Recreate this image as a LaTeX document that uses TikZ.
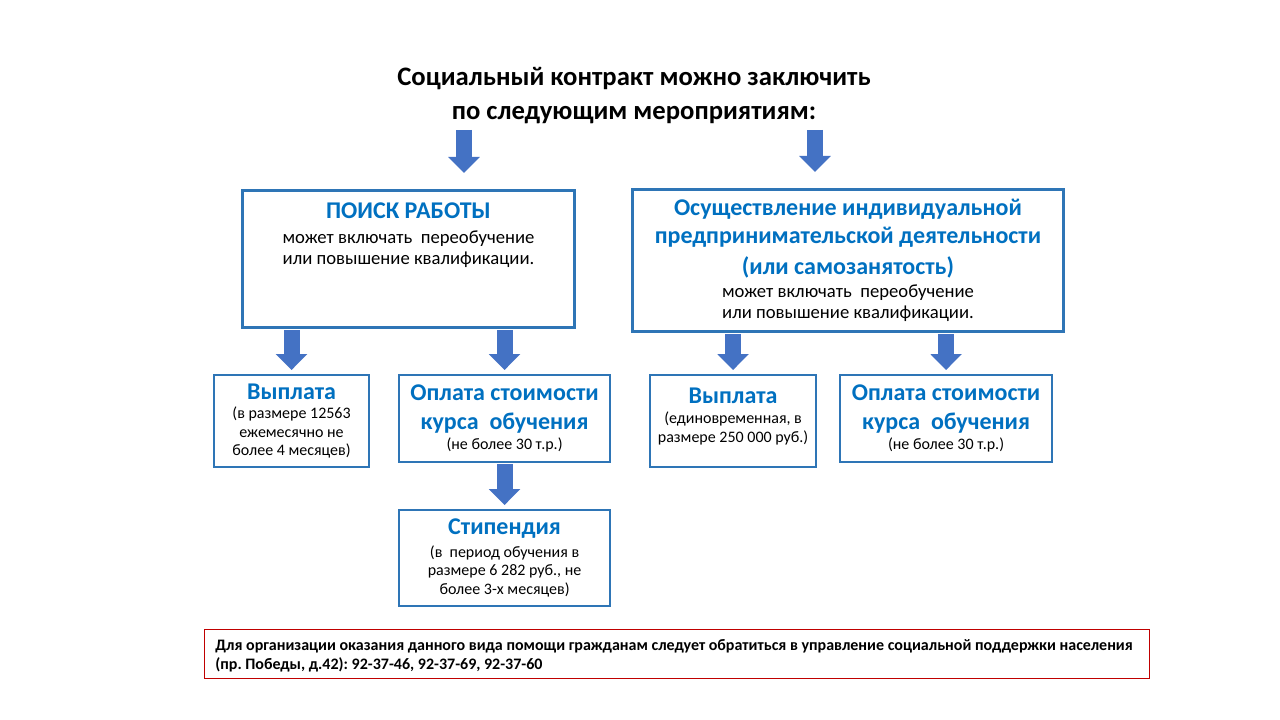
\documentclass[tikz,border=0pt]{standalone}
\usepackage{fontspec}
\setmainfont{Carlito}
\usepackage{tikz}
\usetikzlibrary{positioning,arrows.meta}
\definecolor{boxblue}{HTML}{2E75B6}
\definecolor{headblue}{HTML}{0070C0}
\definecolor{arrowblue}{HTML}{4472C4}
\definecolor{notered}{HTML}{C00000}
\newcommand{\headfont}{\fontsize{18}{22}\selectfont\bfseries\color{headblue}}
\newcommand{\bigsub}{\fontsize{14}{15.75}\selectfont}
\newcommand{\smallsub}{\fontsize{12}{14}\selectfont}
\tikzstyle{arrow} = [line width=12pt, draw=arrowblue, -{Triangle[width=23pt,length=12pt]}]
\frenchspacing

\begin{document}
\begin{tikzpicture}[
    x=0.75pt, y=-0.75pt,
    bigbox/.style={
        rectangle,
        draw=boxblue,
        line width=2.2pt,
        anchor=north west,
        align=center,
        inner sep=0pt
    },
    smallbox/.style={
        rectangle,
        draw=boxblue,
        line width=1.6pt,
        anchor=north west,
        align=center,
        inner sep=0pt,
        font=\smallsub
    },
    notebox/.style={
        rectangle,
        draw=notered,
        line width=0.8pt,
        anchor=north west,
        inner sep=0pt
    }
    ]
    \useasboundingbox (0,0) rectangle (1280,720);

    % Title
    \node[align=center, font=\fontsize{20}{25}\selectfont\bfseries] (title) at (634,95.5)
        {Социальный контракт можно заключить\\по следующим мероприятиям:};

    % Job search
    \node[bigbox, minimum width=249pt, minimum height=102.75pt] (job) at (241,189) {};
    \node[below=7pt of job.north, align=center, font=\bigsub] (jobtext)
        {{\headfont ПОИСК РАБОТЫ}\\[2.5pt]
         может включать\ \ переобучение\\
         или повышение квалификации.};

    % Self-employment
    \node[bigbox, minimum width=323.25pt, minimum height=106.5pt, font=\bigsub] (self) at (631,188)
        {{\headfont Осуществление индивидуальной}\\[5.5pt]
         {\headfont предпринимательской деятельности}\\[5.5pt]
         {\headfont (или самозанятость)}\\[2pt]
         может включать\ \ переобучение\\
         или повышение квалификации.};

    % Job search options
    \node[smallbox, minimum width=116.25pt, minimum height=69pt] (payjob) at (213,374)
        {{\headfont Выплата}\\[0.5pt]
         (в размере 12563\\ежемесячно не\\более 4 месяцев)};
    \node[smallbox, minimum width=158.25pt, minimum height=65.25pt] (coursejob) at (398,374)
        {{\headfont Оплата стоимости}\\[8pt]
         {\headfont курса\ \ обучения}\\[1pt]
         (не более 30 т.р.)};
    \node[smallbox, minimum width=158.25pt, minimum height=72pt] (grant) at (398,509)
        {{\headfont Стипендия}\\[3pt]
         (в\ \ период обучения в\\размере 6 282 руб., не\\более 3-х месяцев)};

    % Self-employment options
    \node[smallbox, minimum width=124.5pt, minimum height=69pt] (payself) at (649,374)
        {{\headfont Выплата}\\[1pt]
         (единовременная, в\\размере 250 000 руб.)\\[-5pt]\mbox{}};
    \node[smallbox, minimum width=159pt, minimum height=65.25pt] (courseself) at (839,374)
        {{\headfont Оплата стоимости}\\[8pt]
         {\headfont курса\ \ обучения}\\[1pt]
         (не более 30 т.р.)};

    % Contacts
    \node[notebox, minimum width=708.75pt, minimum height=36.75pt] (note) at (204,629) {};
    \node[right=5pt of note.west, yshift=-1.5pt, align=left, font=\fontsize{12}{14.5}\selectfont\bfseries] (notetext)
        {Для организации оказания данного вида помощи гражданам следует обратиться в управление социальной поддержки населения\\
         (пр. Победы, д.42): 92-37-46, 92-37-69, 92-37-60};

    \coordinate (jobin) at (464,130);
    \coordinate (selfin) at (815,130);

    \draw[arrow, shorten >=12pt] (jobin) -- (jobin |- job.north);
    \draw[arrow, shorten >=12pt] (selfin) -- (selfin |- self.north);
    \draw[arrow, shorten <=1pt, shorten >=3pt] (job.south -| payjob.north) -- (payjob.north);
    \draw[arrow, shorten <=1pt, shorten >=3pt] (job.south -| coursejob.north) -- (coursejob.north);
    \draw[arrow, shorten <=1pt, shorten >=3pt] (self.south -| payself.north) -- (payself.north);
    \draw[arrow, shorten <=1pt, shorten >=3pt] (self.south -| courseself.north) -- (courseself.north);
    \draw[arrow, shorten <=1pt, shorten >=3pt] (coursejob.south) -- (grant.north);
\end{tikzpicture}
\end{document}
